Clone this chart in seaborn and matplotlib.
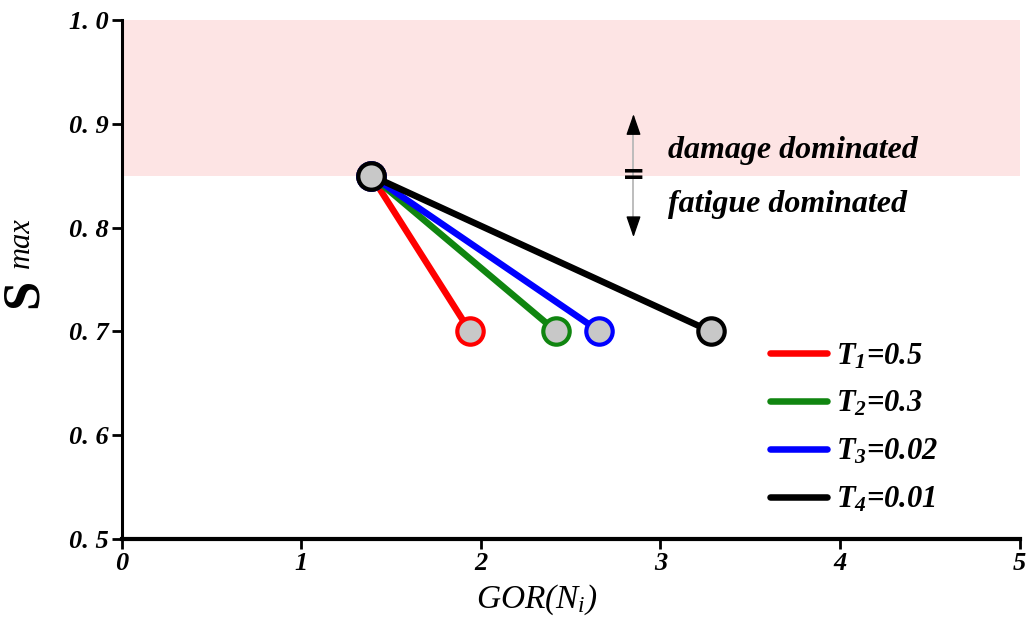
import pandas as pd
import seaborn as sns
import matplotlib.pyplot as plt
from matplotlib.lines import Line2D

# start point shared by all curves, end points at S_max = 0.7
start_gor = 1.39
start_s = 0.85
end_gor = [1.94, 2.42, 2.66, 3.28]
end_s = [0.70, 0.70, 0.70, 0.70]
labels = [r"$\mathbfit{T}_{\mathbfit{1}}$=0.5", r"$\mathbfit{T}_{\mathbfit{2}}$=0.3",
          r"$\mathbfit{T}_{\mathbfit{3}}$=0.02", r"$\mathbfit{T}_{\mathbfit{4}}$=0.01"]
colors = ["#ff0000", "#108510", "#0000ff", "#000000"]
band = [0.85, 1.0]
xticks = [0, 1, 2, 3, 4, 5]
yticks = [0.5, 0.6, 0.7, 0.8, 0.9, 1.0]
ytick_labels = ["0. 5", "0. 6", "0. 7", "0. 8", "0. 9", "1. 0"]

sns.set_style("ticks")
plt.rcParams["font.family"] = ["Liberation Serif", "DejaVu Serif"]
plt.rcParams["mathtext.fontset"] = "custom"
plt.rcParams["mathtext.rm"] = "Liberation Serif"
plt.rcParams["mathtext.it"] = "Liberation Serif:italic"
plt.rcParams["mathtext.bf"] = "Liberation Serif:bold"
plt.rcParams["mathtext.bfit"] = "Liberation Serif:italic:bold"
for k in ["text.color", "axes.labelcolor", "xtick.color", "ytick.color",
          "axes.edgecolor"]:
    plt.rcParams[k] = "black"

fig = plt.figure(figsize=(10.3, 6.21), dpi=100)
ax = fig.add_axes([0.118, 0.132, 0.872, 0.836])

ax.axhspan(band[0], band[1], color="#fde4e4", lw=0, zorder=0)

for i in range(len(end_gor)):
    df = pd.DataFrame({"GOR": [start_gor, end_gor[i]], "S": [start_s, end_s[i]]})
    sns.lineplot(data=df, x="GOR", y="S", color=colors[i], lw=4.7,
                 marker="o", markersize=19, markerfacecolor="#c8c8c8",
                 markeredgecolor=colors[i], markeredgewidth=3, ax=ax,
                 zorder=3 + i)

# damage / fatigue arrow
xa = 2.85
ax.plot([xa, xa], [0.795, 0.905], color="0.72", lw=1.3, zorder=2)
ax.annotate("", xy=(xa, 0.912), xytext=(xa, 0.89),
            arrowprops=dict(arrowstyle="-|>,head_length=1.3,head_width=0.45",
                            color="black", lw=1))
ax.annotate("", xy=(xa, 0.788), xytext=(xa, 0.81),
            arrowprops=dict(arrowstyle="-|>,head_length=1.3,head_width=0.45",
                            color="black", lw=1))
ax.text(xa, 0.851, "=", ha="center", va="center", fontsize=20,
        fontweight="bold", family="DejaVu Sans")
ax.text(3.04, 0.874, "damage dominated", ha="left", va="center",
        fontsize=23, style="italic", fontweight="bold")
ax.text(3.04, 0.822, "fatigue dominated", ha="left", va="center",
        fontsize=23, style="italic", fontweight="bold")

ax.set_xlim(0, 5)
ax.set_ylim(0.5, 1.0)
ax.set_xticks(xticks)
ax.set_yticks(yticks)
ax.set_yticklabels(ytick_labels)
for t in ax.get_xticklabels() + ax.get_yticklabels():
    t.set_fontweight("bold")
    t.set_style("italic")
ax.tick_params(direction="out", length=7, width=2, labelsize=19, pad=2)
sns.despine(ax=ax)
ax.spines["left"].set_linewidth(2.2)
ax.spines["bottom"].set_linewidth(3)

ax.set_xlabel(r"GOR($N_i$)", fontsize=24, style="italic")
ax.xaxis.set_label_coords(0.462, -0.083)
ax.set_ylabel("S", fontsize=38, fontweight="bold")
ax.yaxis.set_label_coords(-0.082, 0.474)
ax.text(-0.112, 0.57, "max", transform=ax.transAxes, rotation=90,
        ha="center", va="center", fontsize=22, style="italic")

handles = [Line2D([], [], color=c, lw=4.7) for c in colors]
ax.legend(handles, labels, loc="lower right", bbox_to_anchor=(0.94, -0.006),
          frameon=False, handlelength=1.85, handletextpad=0.3,
          labelspacing=0.6,
          prop=dict(family="Liberation Serif", weight="bold", style="italic",
                    size=22))

fig.savefig("out.png", dpi=100)
